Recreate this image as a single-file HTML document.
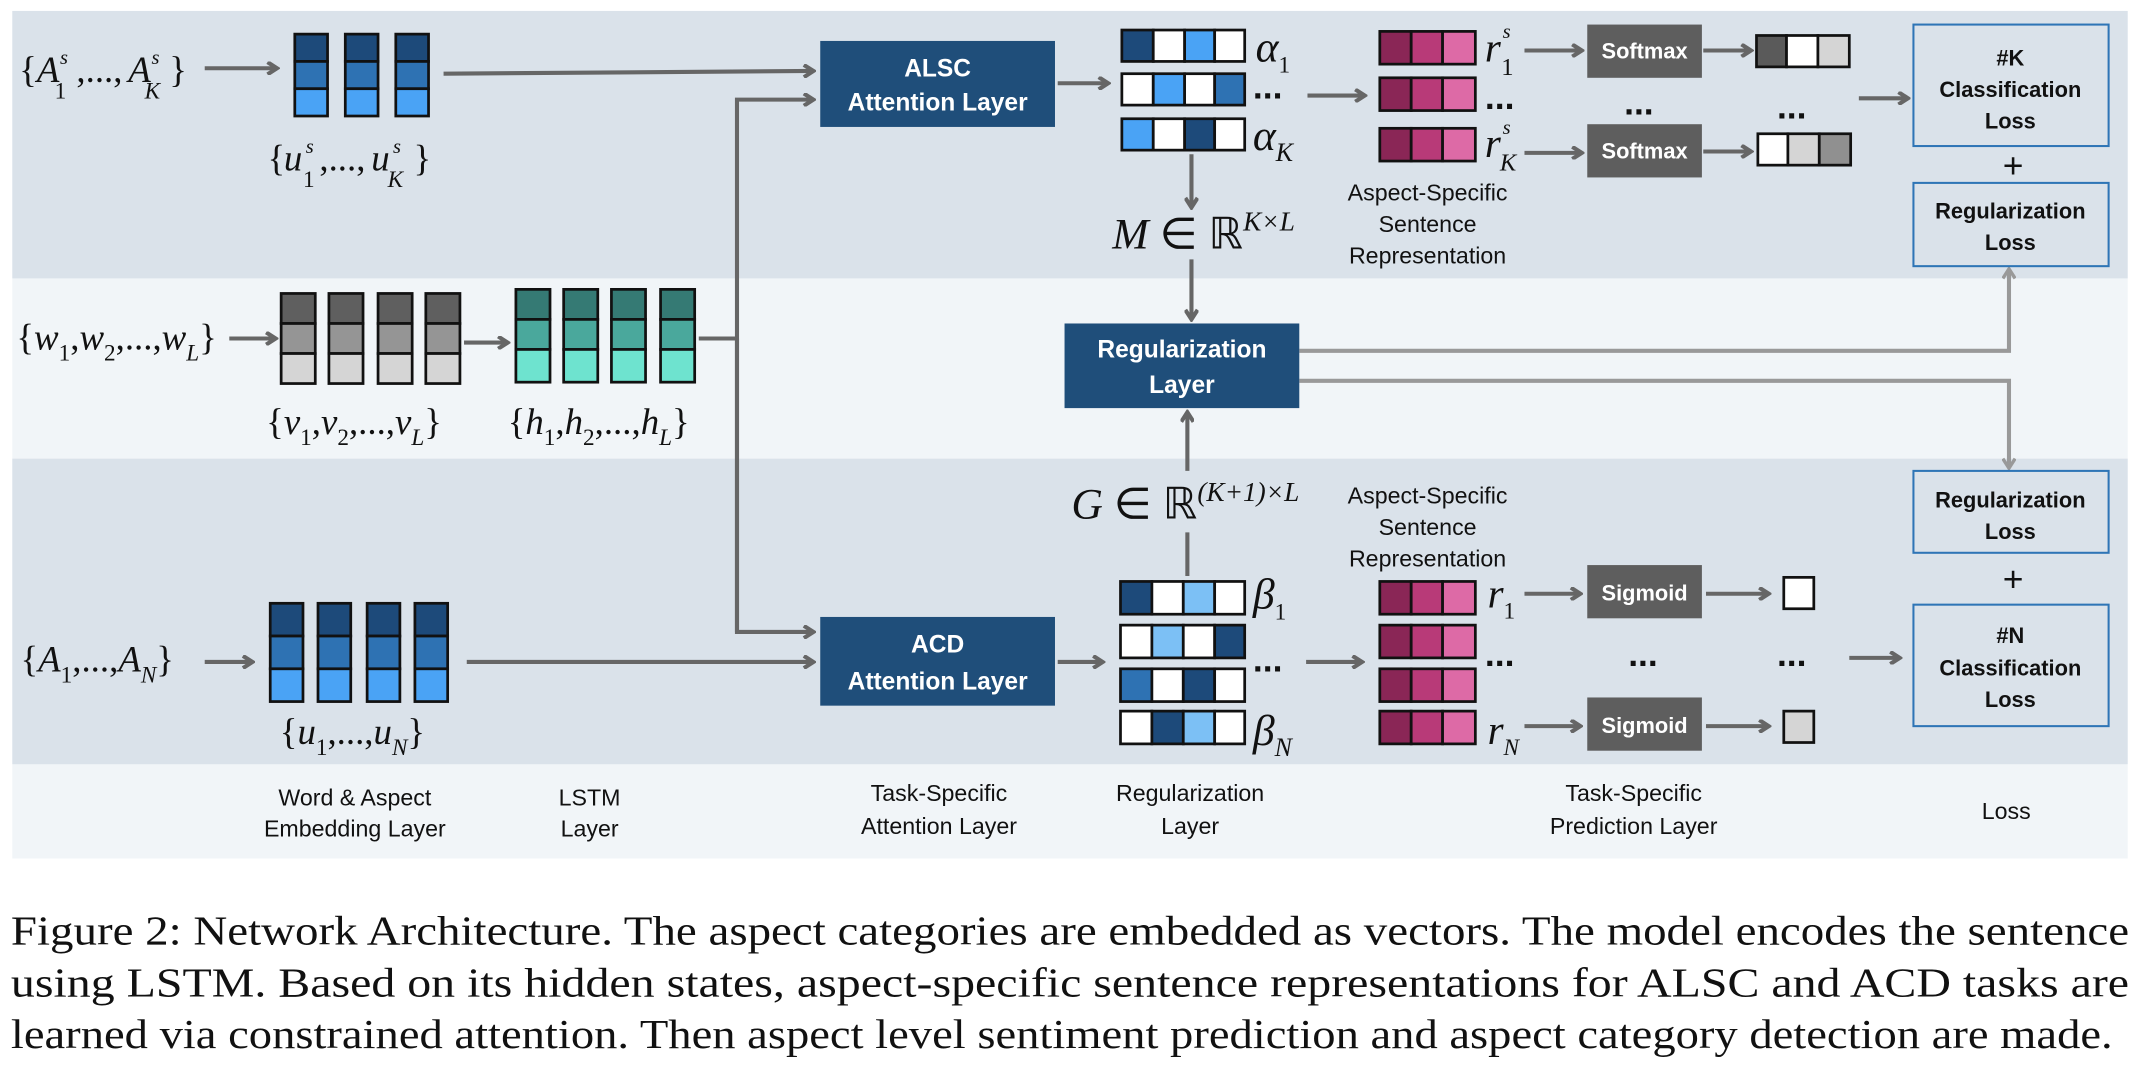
<!DOCTYPE html>
<html><head><meta charset="utf-8"><style>
html,body{margin:0;padding:0;background:#fff;width:2140px;height:1066px;overflow:hidden}
svg{display:block}
.s{font-family:"Liberation Sans",sans-serif}
.m{font-family:"Liberation Serif",serif;font-style:italic}
.n{font-style:normal}
</style></head><body>
<svg width="2140" height="1066" viewBox="0 0 1568 781" preserveAspectRatio="none" xmlns="http://www.w3.org/2000/svg">
<defs>
<marker id="a" markerWidth="10" markerHeight="10" refX="8" refY="5" orient="auto" markerUnits="userSpaceOnUse"><polyline points="1,0.5 8,5 1,9.5" fill="none" stroke="#666" stroke-width="3"/></marker>
<marker id="b" markerWidth="10" markerHeight="10" refX="8" refY="5" orient="auto" markerUnits="userSpaceOnUse"><polyline points="1,0.5 8,5 1,9.5" fill="none" stroke="#999" stroke-width="2.5"/></marker>
<g id="pk" stroke="#111" stroke-width="2">
<rect x="1011" y="0" width="23" height="24" fill="#8a2656"/><rect x="1034" y="0" width="23" height="24" fill="#b83a78"/><rect x="1057" y="0" width="24" height="24" fill="#dd6aa6"/>
</g>
</defs>
<rect x="0" y="0" width="1568" height="781" fill="#fff"/>
<rect x="9" y="8" width="1550" height="196" fill="#dae2ea"/>
<rect x="9" y="204" width="1550" height="132" fill="#f1f5f8"/>
<rect x="9" y="336" width="1550" height="224" fill="#dae2ea"/>
<rect x="9" y="560" width="1550" height="69" fill="#f1f5f8"/>

<g stroke="#666" stroke-width="3" fill="none">
<line x1="150" y1="50" x2="203" y2="50" marker-end="url(#a)"/>
<line x1="325" y1="54" x2="596" y2="52" marker-end="url(#a)"/>
<polyline points="512,248 540,248"/>
<polyline points="540,463 540,73 596,73" marker-end="url(#a)"/>
<polyline points="540,248 540,463 596,463" marker-end="url(#a)"/>
<line x1="168" y1="248" x2="202" y2="248" marker-end="url(#a)"/>
<line x1="340" y1="251" x2="372" y2="251" marker-end="url(#a)"/>
<line x1="775" y1="61" x2="812" y2="61" marker-end="url(#a)"/>
<line x1="873" y1="113" x2="873" y2="152" marker-end="url(#a)"/>
<line x1="873" y1="190" x2="873" y2="234" marker-end="url(#a)"/>
<line x1="958" y1="70" x2="1000" y2="70" marker-end="url(#a)"/>
<line x1="1117" y1="37" x2="1159" y2="37" marker-end="url(#a)"/>
<line x1="1117" y1="112" x2="1159" y2="112" marker-end="url(#a)"/>
<line x1="1248" y1="37" x2="1283" y2="37" marker-end="url(#a)"/>
<line x1="1248" y1="111" x2="1283" y2="111" marker-end="url(#a)"/>
<line x1="1362" y1="72" x2="1398" y2="72" marker-end="url(#a)"/>
<line x1="150" y1="485" x2="185" y2="485" marker-end="url(#a)"/>
<line x1="342" y1="485" x2="596" y2="485" marker-end="url(#a)"/>
<line x1="775" y1="485" x2="808" y2="485" marker-end="url(#a)"/>
<line x1="870" y1="422" x2="870" y2="390"/>
<line x1="870" y1="345" x2="870" y2="302" marker-end="url(#a)"/>
<line x1="957" y1="485" x2="998" y2="485" marker-end="url(#a)"/>
<line x1="1117" y1="435" x2="1158" y2="435" marker-end="url(#a)"/>
<line x1="1117" y1="532" x2="1158" y2="532" marker-end="url(#a)"/>
<line x1="1250" y1="435" x2="1296" y2="435" marker-end="url(#a)"/>
<line x1="1250" y1="532" x2="1296" y2="532" marker-end="url(#a)"/>
<line x1="1355" y1="482" x2="1392" y2="482" marker-end="url(#a)"/>
</g>
<g stroke="#999" stroke-width="3" fill="none">
<polyline points="952,257 1472,257 1472,197" marker-end="url(#b)"/>
<polyline points="952,279 1472,279 1472,343" marker-end="url(#b)"/>
</g>

<!-- vectors -->
<g stroke="#111" stroke-width="2">
<rect x="216" y="25" width="24" height="20" fill="#1d4a7a"/><rect x="216" y="45" width="24" height="20" fill="#2e72b3"/><rect x="216" y="65" width="24" height="20" fill="#4aa3f5"/>
<rect x="253" y="25" width="24" height="20" fill="#1d4a7a"/><rect x="253" y="45" width="24" height="20" fill="#2e72b3"/><rect x="253" y="65" width="24" height="20" fill="#4aa3f5"/>
<rect x="290" y="25" width="24" height="20" fill="#1d4a7a"/><rect x="290" y="45" width="24" height="20" fill="#2e72b3"/><rect x="290" y="65" width="24" height="20" fill="#4aa3f5"/>
<rect x="206" y="215" width="25" height="22" fill="#5f5f5f"/><rect x="206" y="237" width="25" height="22" fill="#959595"/><rect x="206" y="259" width="25" height="22" fill="#d5d5d5"/>
<rect x="241" y="215" width="25" height="22" fill="#5f5f5f"/><rect x="241" y="237" width="25" height="22" fill="#959595"/><rect x="241" y="259" width="25" height="22" fill="#d5d5d5"/>
<rect x="277" y="215" width="25" height="22" fill="#5f5f5f"/><rect x="277" y="237" width="25" height="22" fill="#959595"/><rect x="277" y="259" width="25" height="22" fill="#d5d5d5"/>
<rect x="312" y="215" width="25" height="22" fill="#5f5f5f"/><rect x="312" y="237" width="25" height="22" fill="#959595"/><rect x="312" y="259" width="25" height="22" fill="#d5d5d5"/>
<rect x="378" y="212" width="25" height="22" fill="#357a74"/><rect x="378" y="234" width="25" height="22" fill="#4aa89c"/><rect x="378" y="256" width="25" height="24" fill="#6ee3cf"/>
<rect x="413" y="212" width="25" height="22" fill="#357a74"/><rect x="413" y="234" width="25" height="22" fill="#4aa89c"/><rect x="413" y="256" width="25" height="24" fill="#6ee3cf"/>
<rect x="448" y="212" width="25" height="22" fill="#357a74"/><rect x="448" y="234" width="25" height="22" fill="#4aa89c"/><rect x="448" y="256" width="25" height="24" fill="#6ee3cf"/>
<rect x="484" y="212" width="25" height="22" fill="#357a74"/><rect x="484" y="234" width="25" height="22" fill="#4aa89c"/><rect x="484" y="256" width="25" height="24" fill="#6ee3cf"/>
<rect x="198" y="442" width="24" height="24" fill="#1d4a7a"/><rect x="198" y="466" width="24" height="24" fill="#2e72b3"/><rect x="198" y="490" width="24" height="24" fill="#4aa3f5"/>
<rect x="233" y="442" width="24" height="24" fill="#1d4a7a"/><rect x="233" y="466" width="24" height="24" fill="#2e72b3"/><rect x="233" y="490" width="24" height="24" fill="#4aa3f5"/>
<rect x="269" y="442" width="24" height="24" fill="#1d4a7a"/><rect x="269" y="466" width="24" height="24" fill="#2e72b3"/><rect x="269" y="490" width="24" height="24" fill="#4aa3f5"/>
<rect x="304" y="442" width="24" height="24" fill="#1d4a7a"/><rect x="304" y="466" width="24" height="24" fill="#2e72b3"/><rect x="304" y="490" width="24" height="24" fill="#4aa3f5"/>
<rect x="822" y="22" width="23" height="23" fill="#1d4a7a"/><rect x="845" y="22" width="23" height="23" fill="#fff"/><rect x="868" y="22" width="22" height="23" fill="#4aa3f5"/><rect x="890" y="22" width="22" height="23" fill="#fff"/>
<rect x="822" y="54" width="23" height="23" fill="#fff"/><rect x="845" y="54" width="23" height="23" fill="#4aa3f5"/><rect x="868" y="54" width="22" height="23" fill="#fff"/><rect x="890" y="54" width="22" height="23" fill="#2e72b3"/>
<rect x="822" y="87" width="23" height="23" fill="#4aa3f5"/><rect x="845" y="87" width="23" height="23" fill="#fff"/><rect x="868" y="87" width="22" height="23" fill="#1d4a7a"/><rect x="890" y="87" width="22" height="23" fill="#fff"/>
<rect x="821" y="426" width="23" height="24" fill="#1d4a7a"/><rect x="844" y="426" width="23" height="24" fill="#fff"/><rect x="867" y="426" width="23" height="24" fill="#7cc0f5"/><rect x="890" y="426" width="22" height="24" fill="#fff"/>
<rect x="821" y="458" width="23" height="24" fill="#fff"/><rect x="844" y="458" width="23" height="24" fill="#7cc0f5"/><rect x="867" y="458" width="23" height="24" fill="#fff"/><rect x="890" y="458" width="22" height="24" fill="#1d4a7a"/>
<rect x="821" y="490" width="23" height="24" fill="#2e72b3"/><rect x="844" y="490" width="23" height="24" fill="#fff"/><rect x="867" y="490" width="23" height="24" fill="#1d4a7a"/><rect x="890" y="490" width="22" height="24" fill="#fff"/>
<rect x="821" y="521" width="23" height="24" fill="#fff"/><rect x="844" y="521" width="23" height="24" fill="#1d4a7a"/><rect x="867" y="521" width="23" height="24" fill="#7cc0f5"/><rect x="890" y="521" width="22" height="24" fill="#fff"/>
<rect x="1287" y="26" width="22" height="23" fill="#5a5a5a"/><rect x="1309" y="26" width="23" height="23" fill="#fff"/><rect x="1332" y="26" width="23" height="23" fill="#d5d5d5"/>
<rect x="1288" y="98" width="22" height="23" fill="#fff"/><rect x="1310" y="98" width="23" height="23" fill="#d5d5d5"/><rect x="1333" y="98" width="23" height="23" fill="#909090"/>
<rect x="1307" y="423" width="22" height="23" fill="#fff"/>
<rect x="1307" y="521" width="22" height="23" fill="#d5d5d5"/>
</g>
<use href="#pk" y="23"/><use href="#pk" y="57"/><use href="#pk" y="94"/>
<use href="#pk" y="426"/><use href="#pk" y="458"/><use href="#pk" y="490"/><use href="#pk" y="521"/>

<!-- boxes -->
<rect x="601" y="30" width="172" height="63" fill="#1f4e7a"/>
<rect x="780" y="237" width="172" height="62" fill="#1f4e7a"/>
<rect x="601" y="452" width="172" height="65" fill="#1f4e7a"/>
<g class="s" fill="#fff" font-weight="bold" font-size="18" text-anchor="middle">
<text x="687" y="56">ALSC</text><text x="687" y="81">Attention Layer</text>
<text x="866" y="262">Regularization</text><text x="866" y="288">Layer</text>
<text x="687" y="478">ACD</text><text x="687" y="505">Attention Layer</text>
</g>
<rect x="1163" y="18" width="84" height="39" fill="#5e5e5e"/>
<rect x="1163" y="91" width="84" height="39" fill="#5e5e5e"/>
<rect x="1163" y="414" width="84" height="39" fill="#5e5e5e"/>
<rect x="1163" y="511" width="84" height="39" fill="#5e5e5e"/>
<g class="s" fill="#fff" font-weight="bold" font-size="16" text-anchor="middle">
<text x="1205" y="43">Softmax</text><text x="1205" y="116">Softmax</text>
<text x="1205" y="440">Sigmoid</text><text x="1205" y="537">Sigmoid</text>
</g>
<g fill="none" stroke="#2e75b6" stroke-width="1.5">
<rect x="1402" y="18" width="143" height="89"/>
<rect x="1402" y="134" width="143" height="61"/>
<rect x="1402" y="345" width="143" height="60"/>
<rect x="1402" y="443" width="143" height="89"/>
</g>
<g class="s" fill="#111" font-size="16" text-anchor="middle" font-weight="bold">
<text x="1473" y="48">#K</text><text x="1473" y="71">Classification</text><text x="1473" y="94">Loss</text>
<text x="1473" y="160">Regularization</text><text x="1473" y="183">Loss</text>
<text x="1473" y="372">Regularization</text><text x="1473" y="395">Loss</text>
<text x="1473" y="471">#N</text><text x="1473" y="495">Classification</text><text x="1473" y="518">Loss</text>
</g>
<g class="s" fill="#111" font-size="26" text-anchor="middle"><text x="1475" y="130">+</text><text x="1475" y="433">+</text></g>

<g class="s" fill="#111" font-size="17" text-anchor="middle">
<text x="1046" y="147">Aspect-Specific</text><text x="1046" y="170">Sentence</text><text x="1046" y="193">Representation</text>
<text x="1046" y="369">Aspect-Specific</text><text x="1046" y="392">Sentence</text><text x="1046" y="415">Representation</text>
<text x="260" y="590">Word &amp; Aspect</text><text x="260" y="613">Embedding Layer</text>
<text x="432" y="590">LSTM</text><text x="432" y="613">Layer</text>
<text x="688" y="587">Task-Specific</text><text x="688" y="611">Attention Layer</text>
<text x="872" y="587">Regularization</text><text x="872" y="611">Layer</text>
<text x="1197" y="587">Task-Specific</text><text x="1197" y="611">Prediction Layer</text>
<text x="1470" y="600">Loss</text>
</g>
<g class="s" fill="#111" font-size="26" font-weight="bold">
<text x="918" y="72">...</text><text x="1088" y="80">...</text><text x="1190" y="84">...</text><text x="1302" y="87">...</text>
<text x="918" y="492">...</text><text x="1088" y="488">...</text><text x="1193" y="488">...</text><text x="1302" y="488">...</text>
</g>
<!-- math -->
<g class="m" fill="#111" font-size="27">
<text x="14" y="60" class="n">{</text><text x="27" y="60">A</text><text x="44" y="47" font-size="15">s</text><text x="40" y="72" font-size="17" class="n">1</text>
<text x="56" y="60" class="n">,...,</text><text x="94" y="60">A</text><text x="111" y="47" font-size="15">s</text><text x="106" y="72" font-size="17">K</text><text x="124" y="60" class="n">}</text>

<text x="196" y="125" class="n">{</text><text x="208" y="125">u</text><text x="224" y="112" font-size="15">s</text><text x="222" y="137" font-size="17" class="n">1</text>
<text x="234" y="125" class="n">,...,</text><text x="272" y="125">u</text><text x="288" y="112" font-size="15">s</text><text x="284" y="137" font-size="17">K</text><text x="303" y="125" class="n">}</text>

<text x="12" y="256"><tspan class="n">{</tspan>w<tspan font-size="17" dy="8" class="n">1</tspan><tspan dy="-8" class="n">,</tspan>w<tspan font-size="17" dy="8" class="n">2</tspan><tspan dy="-8" class="n">,...,</tspan>w<tspan font-size="17" dy="8">L</tspan><tspan dy="-8" class="n">}</tspan></text>
<text x="195" y="318"><tspan class="n">{</tspan>v<tspan font-size="17" dy="8" class="n">1</tspan><tspan dy="-8" class="n">,</tspan>v<tspan font-size="17" dy="8" class="n">2</tspan><tspan dy="-8" class="n">,...,</tspan>v<tspan font-size="17" dy="8">L</tspan><tspan dy="-8" class="n">}</tspan></text>
<text x="372" y="318"><tspan class="n">{</tspan>h<tspan font-size="17" dy="8" class="n">1</tspan><tspan dy="-8" class="n">,</tspan>h<tspan font-size="17" dy="8" class="n">2</tspan><tspan dy="-8" class="n">,...,</tspan>h<tspan font-size="17" dy="8">L</tspan><tspan dy="-8" class="n">}</tspan></text>
<text x="15" y="492"><tspan class="n">{</tspan>A<tspan font-size="17" dy="8" class="n">1</tspan><tspan dy="-8" class="n">,...,</tspan>A<tspan font-size="17" dy="8">N</tspan><tspan dy="-8" class="n">}</tspan></text>
<text x="205" y="545"><tspan class="n">{</tspan>u<tspan font-size="17" dy="8" class="n">1</tspan><tspan dy="-8" class="n">,...,</tspan>u<tspan font-size="17" dy="8">N</tspan><tspan dy="-8" class="n">}</tspan></text>
<text x="920" y="45" font-size="32">α<tspan font-size="17" dy="8" class="n">1</tspan></text>
<text x="918" y="110" font-size="32">α<tspan font-size="19" dy="8">K</tspan></text>
<text x="918" y="446" font-size="32">β<tspan font-size="17" dy="8" class="n">1</tspan></text>
<text x="918" y="546" font-size="32">β<tspan font-size="19" dy="8">N</tspan></text>
<text x="1088" y="45" font-size="30">r</text><text x="1101" y="28" font-size="15">s</text><text x="1100" y="55" font-size="18" class="n">1</text>
<text x="1088" y="115" font-size="30">r</text><text x="1101" y="98" font-size="15">s</text><text x="1099" y="125" font-size="18">K</text>
<text x="1090" y="445" font-size="30">r<tspan font-size="17" dy="8" class="n">1</tspan></text>
<text x="1090" y="545" font-size="30">r<tspan font-size="17" dy="8">N</tspan></text>
<text x="815" y="182" font-size="32">M <tspan class="n">∈ ℝ</tspan><tspan font-size="20" dy="-13">K×L</tspan></text>
<text x="785" y="380" font-size="32">G <tspan class="n">∈ ℝ</tspan><tspan font-size="20" dy="-13">(K+1)×L</tspan></text>
</g>
<!-- caption -->
<g font-family="'Liberation Serif',serif" font-size="30" fill="#111">
<text x="8" y="692" textLength="1552" lengthAdjust="spacingAndGlyphs">Figure 2: Network Architecture. The aspect categories are embedded as vectors. The model encodes the sentence</text>
<text x="8" y="730" textLength="1552" lengthAdjust="spacingAndGlyphs">using LSTM. Based on its hidden states, aspect-specific sentence representations for ALSC and ACD tasks are</text>
<text x="8" y="768" textLength="1540" lengthAdjust="spacingAndGlyphs">learned via constrained attention. Then aspect level sentiment prediction and aspect category detection are made.</text>
</g>
</svg>
</body></html>
